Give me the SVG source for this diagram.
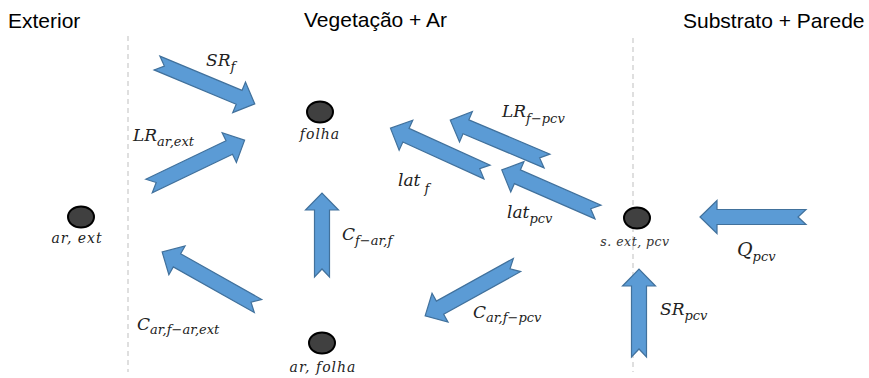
<svg xmlns="http://www.w3.org/2000/svg" width="869" height="378" viewBox="0 0 869 378">
<style>
.hdr{font-family:"Liberation Sans",Arial,sans-serif;font-size:21px;fill:#000}
.m{font-family:"DejaVu Serif","Liberation Serif",serif;font-style:italic;font-size:17px;fill:#222}
.s{font-size:13px}
.nl{font-family:"DejaVu Serif","Liberation Serif",serif;font-style:italic;font-size:14px;fill:#222;text-anchor:middle}
.arr{fill:#5b9bd5;stroke:#41719c;stroke-width:1.2;stroke-linejoin:miter}
.node{fill:#404040;stroke:#000;stroke-width:2}
.dash{stroke:#bfbfbf;stroke-width:1;stroke-dasharray:5,4;fill:none}
</style>
<rect width="869" height="378" fill="#fff"/>
<g id="dividers">
<line class="dash" x1="128" y1="36" x2="128" y2="372"/>
<line class="dash" x1="633" y1="38" x2="633" y2="372"/>
</g>
<g id="headers">
<text class="hdr" x="8" y="28">Exterior</text>
<text class="hdr" x="304" y="27">Vegetação + Ar</text>
<text class="hdr" x="683" y="28">Substrato + Parede</text>
</g>
<g id="connectors">
<path class="arr" transform="translate(157,63) rotate(22.7)" d="M0,-7.5H89V-16.5L106,0L89,16.5V7.5H0L8,0Z"/>
<path class="arr" transform="translate(149,186) rotate(-25.6)" d="M0,-7.5H89V-16.5L106,0L89,16.5V7.5H0L8,0Z"/>
<path class="arr" transform="translate(322,277) rotate(-90)" d="M0,-7.5H67V-16.5L84,0L67,16.5V7.5H0L8,0Z"/>
<path class="arr" transform="translate(258,306) rotate(-150.6)" d="M0,-7.5H93V-16.5L110,0L93,16.5V7.5H0L8,0Z"/>
<path class="arr" transform="translate(517,265) rotate(151)" d="M0,-7.5H88V-16.5L105,0L88,16.5V7.5H0L8,0Z"/>
<path class="arr" transform="translate(547,161) rotate(-157.1)" d="M0,-7.5H88V-16.5L105,0L88,16.5V7.5H0L8,0Z"/>
<path class="arr" transform="translate(487,172) rotate(-155.6)" d="M0,-7.5H89V-16.5L106,0L89,16.5V7.5H0L8,0Z"/>
<path class="arr" transform="translate(598,212) rotate(-156.4)" d="M0,-7.5H88V-16.5L105,0L88,16.5V7.5H0L8,0Z"/>
<path class="arr" transform="translate(806,217) rotate(180)" d="M0,-7.5H89V-16.5L106,0L89,16.5V7.5H0L8,0Z"/>
<path class="arr" transform="translate(639,357) rotate(-90)" d="M0,-7.5H71V-16.5L88,0L71,16.5V7.5H0L8,0Z"/>
</g>
<g id="connector-labels">
<text class="m" x="206" y="66">SR<tspan class="s" dy="5">f</tspan></text>
<text class="m" x="133" y="141">LR<tspan class="s" dy="5">ar,ext</tspan></text>
<text class="m" x="398" y="186">lat<tspan class="s" dx="4" dy="7">f</tspan></text>
<text class="m" x="502" y="117">LR<tspan class="s" dy="6">f−pcv</tspan></text>
<text class="m" x="507" y="218">lat<tspan class="s" dy="5">pcv</tspan></text>
<text class="m" x="342" y="240">C<tspan class="s" dy="5">f−ar,f</tspan></text>
<text class="m" x="473" y="318">C<tspan class="s" dy="4">ar,f−pcv</tspan></text>
<text class="m" x="137" y="330">C<tspan class="s" dy="4">ar,f−ar,ext</tspan></text>
<text class="m" x="737" y="256" style="font-size:19px">Q<tspan class="s" dy="5">pcv</tspan></text>
<text class="m" x="660" y="315">SR<tspan class="s" dy="5">pcv</tspan></text>
</g>
<g id="node-folha">
<ellipse class="node" cx="320" cy="112" rx="13" ry="10.5"/>
<text class="nl" x="320" y="139" letter-spacing="1">folha</text>
</g>
<g id="node-ar-ext">
<ellipse class="node" cx="81" cy="217" rx="13" ry="10.5"/>
<text class="nl" x="77" y="243" letter-spacing="1">ar, ext</text>
</g>
<g id="node-ar-folha">
<ellipse class="node" cx="322" cy="343" rx="13" ry="10.5"/>
<text class="nl" x="323" y="372" letter-spacing="1">ar, folha</text>
</g>
<g id="node-s-ext-pcv">
<ellipse class="node" cx="637" cy="218" rx="13" ry="10.5"/>
<text class="nl" x="635" y="246" style="fill:#333;font-size:12.5px" letter-spacing="0.5">s. ext, pcv</text>
</g>
</svg>
